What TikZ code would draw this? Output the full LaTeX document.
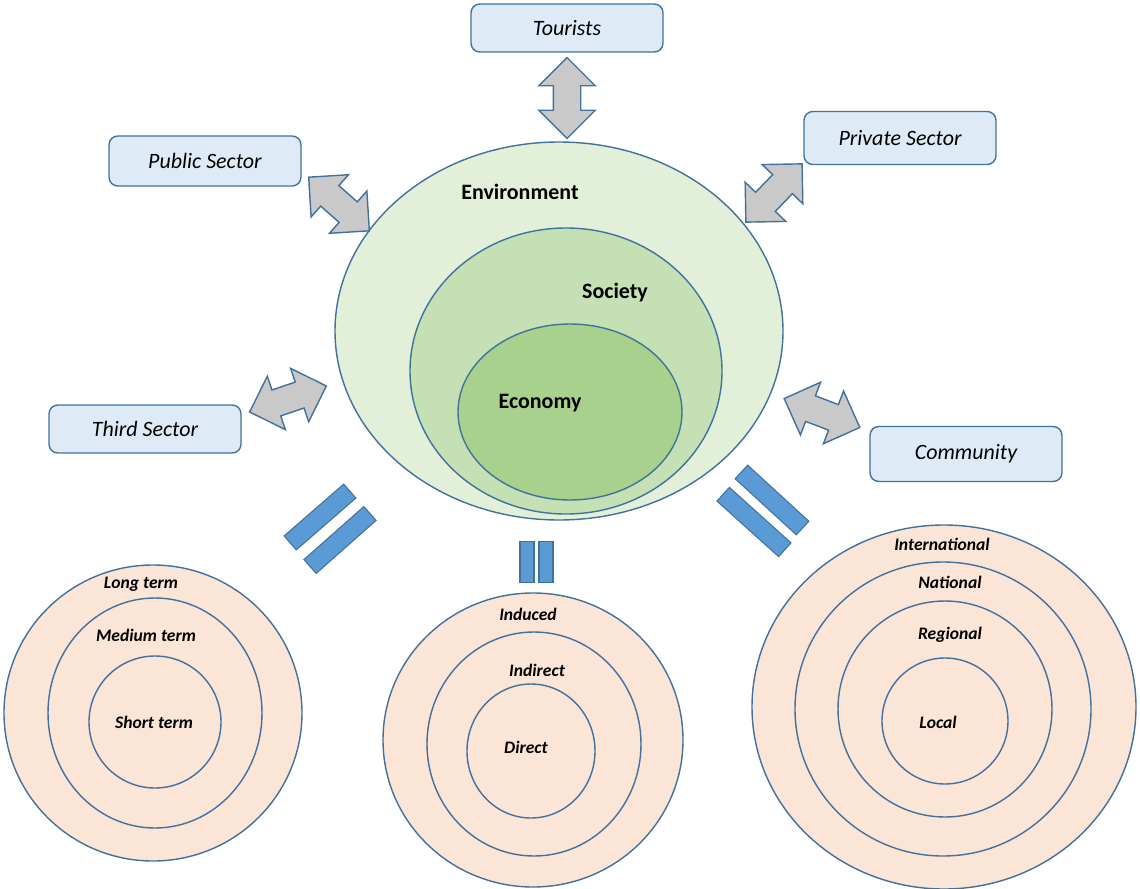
\documentclass[tikz,border=0pt]{standalone}
\usepackage{fontspec}
\setmainfont{Carlito}
\usetikzlibrary{shapes.arrows}

\definecolor{edgeblue}{HTML}{41719C}
\definecolor{boxfill}{HTML}{DEEBF7}
\definecolor{envfill}{HTML}{E2F0D9}
\definecolor{socfill}{HTML}{C5E0B4}
\definecolor{ecofill}{HTML}{A9D18E}
\definecolor{ringfill}{HTML}{FBE5D6}
\definecolor{arrowgray}{HTML}{C9C9C9}
\definecolor{barblue}{HTML}{5B9BD5}

\begin{document}
\begin{tikzpicture}[x=0.02cm,y=-0.02cm,line width=0.8pt,
    box/.style={draw=edgeblue,fill=boxfill,rounded corners=5pt,minimum width=3.84cm,
      font=\fontsize{12.5}{15}\selectfont\itshape},
    sphere/.style={draw=edgeblue},
    ring/.style={draw=edgeblue,fill=ringfill},
    main label/.style={font=\fontsize{12.5}{15}\selectfont\bfseries},
    ring label/.style={font=\fontsize{10}{12}\selectfont\bfseries\itshape},
    twoway/.style={double arrow,draw=edgeblue,fill=arrowgray,inner xsep=0pt,inner ysep=0.26cm,
      minimum height=1.62cm,minimum width=1.1cm,double arrow head extend=0.29cm,
      double arrow tip angle=90},
    bar/.style={draw=edgeblue,fill=barblue,inner sep=0pt,line width=0.6pt}]

\useasboundingbox (0,0) rectangle (1140,889);

% stakeholder boxes
\node[box, minimum height=0.96cm] (tour) at (567,28) {Tourists};
\node[box, minimum height=1cm] (pub) at (205,161) {Public Sector};
\node[box, minimum height=1.06cm] (priv) at (900,138) {Private Sector};
\node[box, minimum height=0.96cm] (third) at (145,429) {Third Sector};
\node[box, minimum height=1.1cm] (comm) at (966,454) {Community};

% nested spheres
\draw[sphere, fill=envfill] (559,331) ellipse [x radius=224, y radius=189];
\draw[sphere, fill=socfill] (566,371) ellipse [x radius=156, y radius=143];
\draw[sphere, fill=ecofill] (570,412) ellipse [x radius=112, y radius=88];
\node[main label] (env) at (520,192) {Environment};
\node[main label] (soc) at (615,293) {Society};
\node[main label] (eco) at (540,403) {Economy};

% two-way arrows
\node[twoway, rotate=90] (aTour) at (567,98) {};
\node[twoway, rotate=-41.5] (aPub) at (339,204) {};
\node[twoway, rotate=46] (aPriv) at (774,193) {};
\node[twoway, rotate=18.7] (aThird) at (288,399) {};
\node[twoway, rotate=-20.9] (aComm) at (822,413) {};

% equals signs
\node[bar, minimum width=1.58cm, minimum height=0.37cm, rotate=41] (eqL1) at (320,517) {};
\node[bar, minimum width=1.6cm, minimum height=0.37cm, rotate=41.5] (eqL2) at (340,540) {};
\node[bar, minimum width=0.28cm, minimum height=0.82cm] (eqM1) at (527,562) {};
\node[bar, minimum width=0.28cm, minimum height=0.82cm] (eqM2) at (546,562) {};
\node[bar, minimum width=1.66cm, minimum height=0.37cm, rotate=-42.5] (eqR1) at (772,500) {};
\node[bar, minimum width=1.66cm, minimum height=0.37cm, rotate=-42] (eqR2) at (754,522) {};

% time rings
\draw[ring] (153,713) ellipse [x radius=149, y radius=148];
\draw[ring] (155,713) ellipse [x radius=107, y radius=115];
\draw[ring] (155,722) ellipse [x radius=66, y radius=66];
\node[ring label] (long) at (141,584) {Long term};
\node[ring label] (medium) at (146,635) {Medium term};
\node[ring label] (short) at (154,722) {Short term};

% effect rings
\draw[ring] (533,740) ellipse [x radius=150, y radius=147];
\draw[ring] (534,744) ellipse [x radius=107, y radius=112];
\draw[ring] (531,751) ellipse [x radius=64, y radius=67];
\node[ring label] (induced) at (528,614) {Induced};
\node[ring label] (indirect) at (537,670) {Indirect};
\node[ring label] (direct) at (526,747) {Direct};

% scale rings
\draw[ring] (944,707) ellipse [x radius=192, y radius=182];
\draw[ring] (943,709) ellipse [x radius=148, y radius=147];
\draw[ring] (945,709) ellipse [x radius=107, y radius=108];
\draw[ring] (945,721) ellipse [x radius=63, y radius=63];
\node[ring label] (intl) at (942,544) {International};
\node[ring label] (natl) at (950,582) {National};
\node[ring label] (regl) at (950,635) {Regional};
\node[ring label] (locl) at (938,722) {Local};

\end{tikzpicture}
\end{document}
